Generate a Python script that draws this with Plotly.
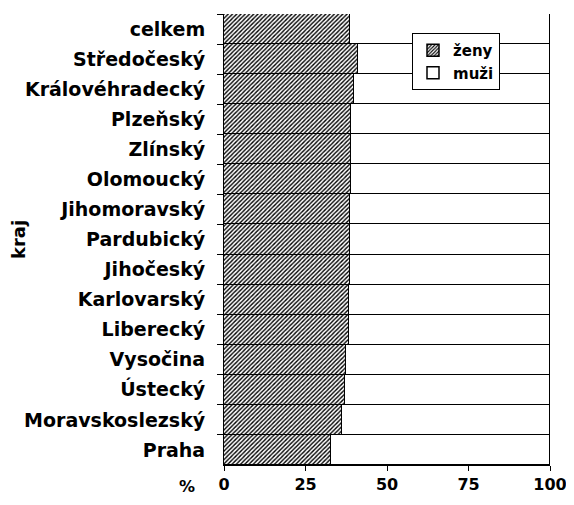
import plotly.graph_objects as go

# podíl žen podle kraje (%), shora dolů
kraje = ['celkem', 'Středočeský', 'Královéhradecký', 'Plzeňský', 'Zlínský',
         'Olomoucký', 'Jihomoravský', 'Pardubický', 'Jihočeský', 'Karlovarský',
         'Liberecký', 'Vysočina', 'Ústecký', 'Moravskoslezský', 'Praha']
zeny = [38.7, 41.2, 39.8, 39.1, 39.1, 39.0, 38.7, 38.7, 38.7, 38.2,
        38.2, 37.5, 37.0, 36.2, 32.7]
muzi = [round(100 - z, 1) for z in zeny]
x_ticks = [0, 25, 50, 75, 100]

FONT = 'DejaVu Sans'
OFF = 8  # okraj stránky (body margin) v prohlížeči
W, H = 574 - 2 * OFF, 505 - 2 * OFF   # bez posuvníků
L, R, T, B = 224 - OFF, W - (550 - OFF), 14 - OFF, H - (465 - OFF)
pw, ph = W - L - R, H - T - B


def px_x(x):
    return (x - OFF - L) / pw


def px_y(y):
    return (H - B - (y - OFF)) / ph


fig = go.Figure()
fig.add_trace(go.Bar(
    y=kraje, x=zeny, name='ženy', orientation='h',
    marker=dict(
        color='white',
        line=dict(color='black', width=1.5),
        pattern=dict(shape='/', fgcolor='black', bgcolor='white',
                     size=3, solidity=0.45, fillmode='replace'),
    ),
))
fig.add_trace(go.Bar(
    y=kraje, x=muzi, name='muži', orientation='h',
    marker=dict(color='white', line=dict(color='black', width=1.5)),
))

fig.update_layout(
    width=W, height=H,
    barmode='stack', bargap=0,
    plot_bgcolor='white', paper_bgcolor='white',
    font=dict(family=FONT, size=19, color='black', weight='bold'),
    margin=dict(l=L, r=R, t=T, b=B, autoexpand=False),
    showlegend=True,
    legend=dict(
        x=px_x(412), y=px_y(33), xanchor='left', yanchor='top',
        bgcolor='white', bordercolor='black', borderwidth=1,
        font=dict(family=FONT, size=15, weight='bold'),
        traceorder='normal', tracegroupgap=0, itemwidth=30,
    ),
    xaxis=dict(
        range=[0, 100], tickvals=x_ticks, showgrid=False, automargin=False,
        showline=True, linecolor='black', linewidth=1,
        ticks='outside', ticklen=5, tickcolor='black',
        ticklabeloverflow='allow',
        tickfont=dict(family=FONT, size=16, weight='bold'),
    ),
    yaxis=dict(
        categoryorder='array', categoryarray=kraje, autorange='reversed',
        showgrid=False, showline=True, linecolor='black', linewidth=1,
        automargin=False,
        ticks='outside', ticklen=6, tickcolor='black', tickson='boundaries',
        ticklabelstandoff=14,
        tickfont=dict(family=FONT, size=19, weight='bold'),
        title=dict(text='kraj', standoff=2,
                   font=dict(family=FONT, size=18, weight='bold')),
    ),
    annotations=[
        dict(text='%', xref='paper', yref='paper', x=px_x(196),
             y=px_y(486), xanchor='right', yanchor='middle', showarrow=False,
             borderpad=0, font=dict(family=FONT, size=16, weight='bold')),
    ],
)

fig.write_html('out.html')
